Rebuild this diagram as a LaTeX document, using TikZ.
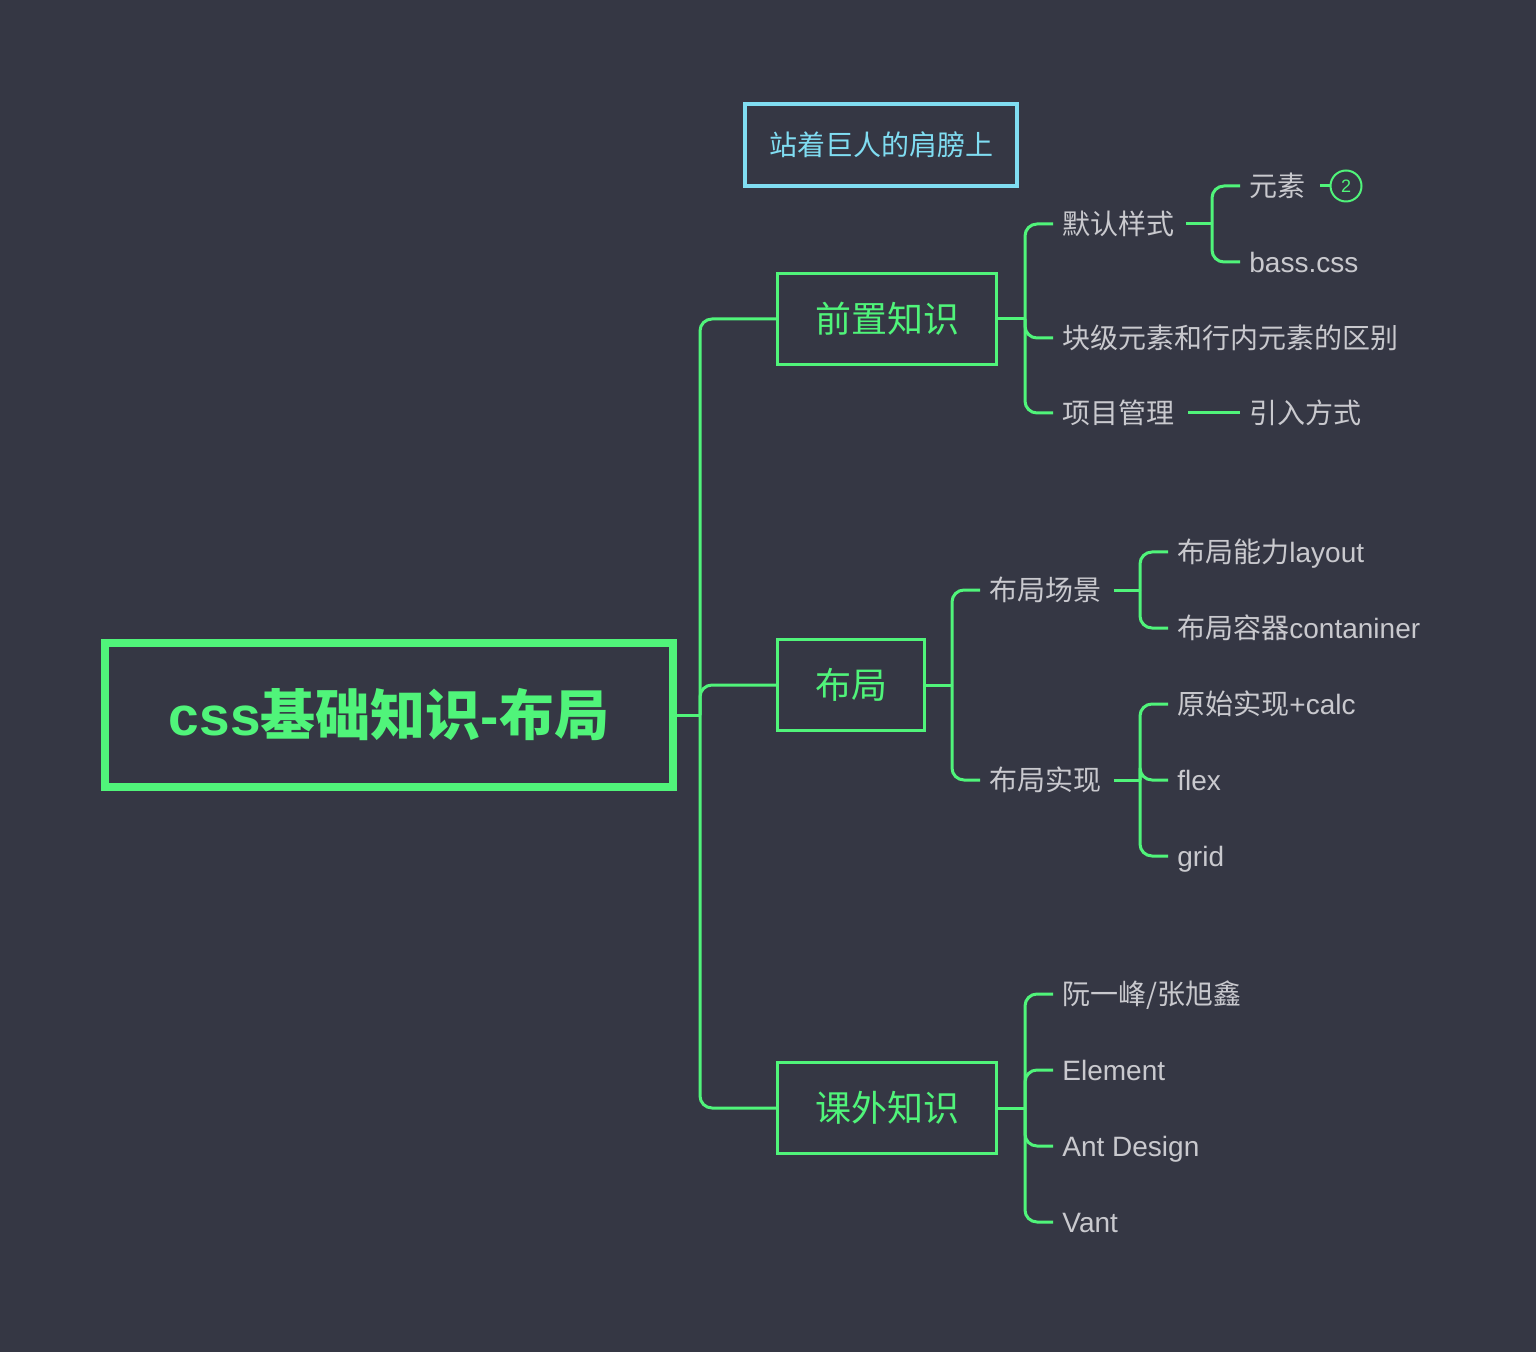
\documentclass[tikz,border=0pt]{standalone}
\usepackage{fontspec}
\setmainfont{Noto Sans CJK SC}
\newfontfamily\lat{Liberation Sans}
\usepackage{tikz}
\usetikzlibrary{calc}
\definecolor{bgcol}{HTML}{353744}
\definecolor{mapgreen}{HTML}{50F47A}
\definecolor{mapcyan}{HTML}{80DDF2}
\definecolor{leafgray}{HTML}{C9C9CE}
\tikzset{
  rootbox/.style={draw=mapgreen, line width=4pt, text=mapgreen, inner sep=0pt,
    font=\fontsize{27.5}{30}\selectfont\bfseries, minimum width=284pt, minimum height=72pt},
  topicbox/.style={draw=mapgreen, line width=1.5pt, text=mapgreen, inner sep=0pt,
    font=\fontsize{18}{20}\selectfont, minimum height=45.5pt},
  notebox/.style={draw=mapcyan, line width=1.75pt, text=mapcyan, inner sep=0pt,
    font=\fontsize{14}{16}\selectfont, minimum width=136pt, minimum height=41pt},
  leaf/.style={anchor=west, text=leafgray, font=\fontsize{14}{16}\selectfont,
    inner xsep=4.5pt, inner ysep=0pt, text height=1.18em, text depth=0.12em},
  link/.style={draw=mapgreen, line width=1.5pt, rounded corners=6pt},
  badge/.style={circle, draw=mapgreen, line width=1pt, text=mapgreen, inner sep=0pt,
    font=\fontsize{9}{10}\selectfont\lat, minimum size=15.5pt},
}

\begin{document}
\begin{tikzpicture}[x=0.5pt, y=-0.5pt]

  \fill[bgcol] (0,0) rectangle (1536,1352);
  \useasboundingbox (0,0) rectangle (1536,1352);

  % boxes
  \node[notebox] (note) at (881,145) {站着巨人的肩膀上};
  \node[rootbox] (root) at (389,715) {{\lat css}基础知识{\lat -}布局};
  \node[topicbox, minimum width=109.5pt] (pre) at (887,319) {前置知识};
  \node[topicbox, minimum width=73.5pt] (lay) at (851,685) {布局};
  \node[topicbox, minimum width=109.5pt] (ext) at (887,1108) {课外知识};

  % junctions
  \coordinate (jr) at (700,715);
  \coordinate (jpre) at (1025,319);
  \coordinate (jlay) at (952,685);
  \coordinate (jext) at (1025,1108);
  \coordinate (jstyle) at (1212,224);
  \coordinate (jscene) at (1140,590);
  \coordinate (jimpl) at (1140,780);

  % leaves of pre
  \node[leaf] (style) at (1053,224) {默认样式};
  \node[leaf] (block) at (1053,338) {块级元素和行内元素的区别};
  \node[leaf] (proj) at (1053,413) {项目管理};
  \node[leaf] (elem) at (1240,186) {元素};
  \node[leaf] (bass) at (1240,262) {\lat bass.css};
  \node[leaf] (intro) at (1240,413) {引入方式};
  \node[badge] (cnt) at (1346,186) {2};

  % leaves of lay
  \node[leaf] (scene) at (980,590) {布局场景};
  \node[leaf] (impl) at (980,780) {布局实现};
  \node[leaf] (ability) at (1168,552) {布局能力{\lat layout}};
  \node[leaf] (box) at (1168,628) {布局容器{\lat contaniner}};
  \node[leaf] (calc) at (1168,704) {原始实现{\lat +calc}};
  \node[leaf] (flex) at (1168,780) {\lat flex};
  \node[leaf] (grid) at (1168,856) {\lat grid};

  % leaves of ext
  \node[leaf] (ruan) at (1053,994) {阮一峰/张旭鑫};
  \node[leaf] (elui) at (1053,1070) {\lat Element};
  \node[leaf] (ant) at (1053,1146) {\lat Ant Design};
  \node[leaf] (vant) at (1053,1222) {\lat Vant};

  % connectors
  \draw[link] (root.east) -- (jr);
  \foreach \t in {pre,lay,ext}
    \draw[link] (jr) |- (\t.west);

  \draw[link] (pre.east) -- (jpre);
  \foreach \t in {style,block,proj}
    \draw[link] (jpre) |- (\t.west);
  \draw[link, shorten <=1pt] (style.east) -- (jstyle);
  \foreach \t in {elem,bass}
    \draw[link] (jstyle) |- (\t.west);
  \draw[link, shorten <=2.5pt] (elem.east) -- (cnt.west);
  \draw[link, shorten <=2pt] (proj.east) -- (intro.west);

  \draw[link] (lay.east) -- (jlay);
  \foreach \t in {scene,impl}
    \draw[link] (jlay) |- (\t.west);
  \draw[link, shorten <=1.5pt] (scene.east) -- (jscene);
  \foreach \t in {ability,box}
    \draw[link] (jscene) |- (\t.west);
  \draw[link, shorten <=1.5pt] (impl.east) -- (jimpl);
  \foreach \t in {calc,flex,grid}
    \draw[link] (jimpl) |- (\t.west);

  \draw[link] (ext.east) -- (jext);
  \foreach \t in {ruan,elui,ant,vant}
    \draw[link] (jext) |- (\t.west);

\end{tikzpicture}
\end{document}
